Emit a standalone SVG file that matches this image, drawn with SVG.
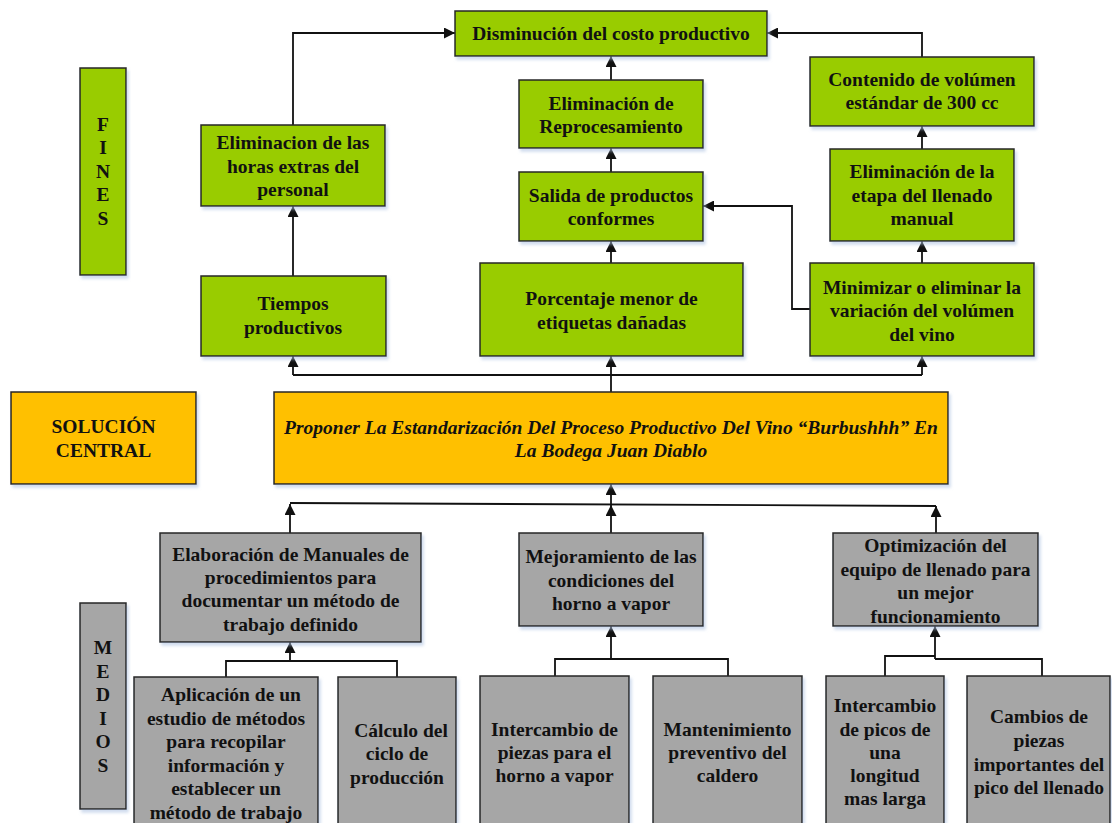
<svg xmlns="http://www.w3.org/2000/svg" width="1112" height="823" viewBox="0 0 1112 823">
<defs>
<marker id="ah" markerUnits="userSpaceOnUse" markerWidth="12" markerHeight="11" refX="11" refY="5.5" orient="auto">
<path d="M0,0 L11,5.5 L0,11 z" fill="#111"/>
</marker>
<filter id="sh" x="-5%" y="-5%" width="115%" height="120%">
<feDropShadow dx="2" dy="3" stdDeviation="1.5" flood-color="#a9bfe0" flood-opacity="0.55"/>
</filter>
<style>
.g{fill:#99CC00;stroke:#262626;stroke-width:1.5;filter:url(#sh)}
.o{fill:#FFC000;stroke:#262626;stroke-width:1.5;filter:url(#sh)}
.y{fill:#A6A6A6;stroke:#262626;stroke-width:1.5;filter:url(#sh)}
text{font-family:"Liberation Serif","Times New Roman",serif;font-weight:bold;font-size:19.5px;fill:#111;text-anchor:middle}
.it{font-style:italic}
.c{fill:none;stroke:#111;stroke-width:1.8}
.a{fill:none;stroke:#111;stroke-width:1.8;marker-end:url(#ah)}
</style>
</defs>
<rect width="1112" height="823" fill="#fff"/>

<g id="connectors">
<polyline class="a" points="293,125 293,33 455,33"/>
<polyline class="a" points="922,57 922,33 767,33"/>
<line class="a" x1="611" y1="80" x2="611" y2="56"/>
<line class="a" x1="611" y1="172" x2="611" y2="148"/>
<line class="a" x1="611" y1="263" x2="611" y2="241"/>
<polyline class="a" points="810,309 792,309 792,206 703,206"/>
<line class="a" x1="922" y1="263" x2="922" y2="241"/>
<line class="a" x1="922" y1="149" x2="922" y2="126"/>
<line class="a" x1="293" y1="276" x2="293" y2="206"/>
<line class="a" x1="611" y1="392" x2="611" y2="356"/>
<polyline class="c" points="293,375 922,375"/>
<line class="a" x1="293" y1="375" x2="293" y2="356"/>
<line class="a" x1="922" y1="375" x2="922" y2="356"/>

<line class="c" x1="290" y1="503" x2="936" y2="506"/>
<line class="a" x1="290" y1="533" x2="290" y2="504"/>
<line class="a" x1="611" y1="533" x2="611" y2="505"/>
<line class="a" x1="611" y1="505" x2="611" y2="484"/>
<line class="a" x1="936" y1="533" x2="936" y2="506"/>

<line class="a" x1="290" y1="661" x2="290" y2="642"/>
<polyline class="c" points="226,677 226,661 397,661 397,677"/>
<line class="a" x1="611" y1="659" x2="611" y2="626"/>
<polyline class="c" points="555,676 555,659 728,659 728,676"/>
<line class="a" x1="935" y1="659" x2="935" y2="626"/>
<polyline class="c" points="885,676 885,656 935,656"/>
<polyline class="c" points="935,659 1042,659 1042,676"/>
</g>

<g id="n-disminucion"><rect class="g" x="455" y="11" width="312" height="45"/><text x="611" y="40">Disminución del costo productivo</text></g>
<g id="n-fines"><rect class="g" x="80" y="68" width="46" height="207"/>
<text x="103" y="131">F</text><text x="103" y="154">I</text><text x="103" y="178">N</text><text x="103" y="201">E</text><text x="103" y="225">S</text></g>
<g id="n-horas"><rect class="g" x="201" y="125" width="184" height="81"/><text x="293" y="149">Eliminacion de las</text><text x="293" y="173">horas extras del</text><text x="293" y="196">personal</text></g>
<g id="n-reproc"><rect class="g" x="519" y="80" width="184" height="68"/><text x="611" y="110">Eliminación de</text><text x="611" y="133">Reprocesamiento</text></g>
<g id="n-contenido"><rect class="g" x="810" y="57" width="224" height="69"/><text x="922" y="86">Contenido de volúmen</text><text x="922" y="109">estándar de 300 cc</text></g>
<g id="n-salida"><rect class="g" x="519" y="172" width="184" height="69"/><text x="611" y="202">Salida de productos</text><text x="611" y="225">conformes</text></g>
<g id="n-etapa"><rect class="g" x="830" y="149" width="184" height="92"/><text x="922" y="178">Eliminación de la</text><text x="922" y="202">etapa del llenado</text><text x="922" y="225">manual</text></g>
<g id="n-tiempos"><rect class="g" x="201" y="276" width="185" height="80"/><text x="293" y="310">Tiempos</text><text x="293" y="334">productivos</text></g>
<g id="n-porcentaje"><rect class="g" x="480" y="263" width="263" height="93"/><text x="611.5" y="305">Porcentaje menor de</text><text x="611.5" y="329">etiquetas dañadas</text></g>
<g id="n-minimizar"><rect class="g" x="810" y="263" width="224" height="93"/><text x="922" y="294">Minimizar o eliminar la</text><text x="922" y="317">variación del volúmen</text><text x="922" y="341">del vino</text></g>

<g id="n-solucion"><rect class="o" x="11" y="392" width="185" height="92"/><text x="103.5" y="433">SOLUCIÓN</text><text x="103.5" y="457">CENTRAL</text></g>
<g id="n-proponer"><rect class="o" x="274" y="392" width="674" height="92"/><text class="it" x="611" y="434">Proponer La Estandarización Del Proceso Productivo Del Vino “Burbushhh” En</text><text class="it" x="611" y="457">La Bodega Juan Diablo</text></g>

<g id="n-elaboracion"><rect class="y" x="160" y="533" width="261" height="109"/><text x="290.5" y="561">Elaboración de Manuales de</text><text x="290.5" y="584">procedimientos para</text><text x="290.5" y="607">documentar un método de</text><text x="290.5" y="631">trabajo definido</text></g>
<g id="n-mejoramiento"><rect class="y" x="519" y="533" width="184" height="93"/><text x="611" y="563">Mejoramiento de las</text><text x="611" y="587">condiciones del</text><text x="611" y="610">horno a vapor</text></g>
<g id="n-optimizacion"><rect class="y" x="833" y="533" width="205" height="93"/><text x="935.5" y="552">Optimización del</text><text x="935.5" y="576">equipo de llenado para</text><text x="935.5" y="599">un mejor</text><text x="935.5" y="623">funcionamiento</text></g>
<g id="n-medios"><rect class="y" x="80" y="603" width="46" height="206"/>
<text x="103" y="654">M</text><text x="103" y="678">E</text><text x="103" y="701">D</text><text x="103" y="725">I</text><text x="103" y="748">O</text><text x="103" y="772">S</text></g>

<g id="n-aplicacion"><rect class="y" x="134" y="677" width="184" height="155"/><text x="231" y="701">Aplicación de un</text><text x="226" y="725">estudio de métodos</text><text x="226" y="748">para recopilar</text><text x="226" y="772">información y</text><text x="226" y="795">establecer un</text><text x="226" y="819">método de trabajo</text></g>
<g id="n-calculo"><rect class="y" x="338" y="677" width="118" height="155"/><text x="401" y="737">Cálculo del</text><text x="397" y="760">ciclo de</text><text x="397" y="784">producción</text></g>
<g id="n-intercambio-piezas"><rect class="y" x="480" y="676" width="149" height="156"/><text x="554.5" y="736">Intercambio de</text><text x="554.5" y="759">piezas para el</text><text x="554.5" y="782">horno a vapor</text></g>
<g id="n-mantenimiento"><rect class="y" x="653" y="676" width="149" height="156"/><text x="727.5" y="736">Mantenimiento</text><text x="727.5" y="759">preventivo del</text><text x="727.5" y="782">caldero</text></g>
<g id="n-intercambio-picos"><rect class="y" x="826" y="676" width="118" height="156"/><text x="885" y="712">Intercambio</text><text x="885" y="736">de picos de</text><text x="885" y="759">una</text><text x="885" y="782">longitud</text><text x="885" y="805">mas larga</text></g>
<g id="n-cambios"><rect class="y" x="967" y="676" width="143" height="156"/><text x="1039" y="723">Cambios de</text><text x="1039" y="747">piezas</text><text x="1039" y="771">importantes del</text><text x="1039" y="794">pico del llenado</text></g>
</svg>
